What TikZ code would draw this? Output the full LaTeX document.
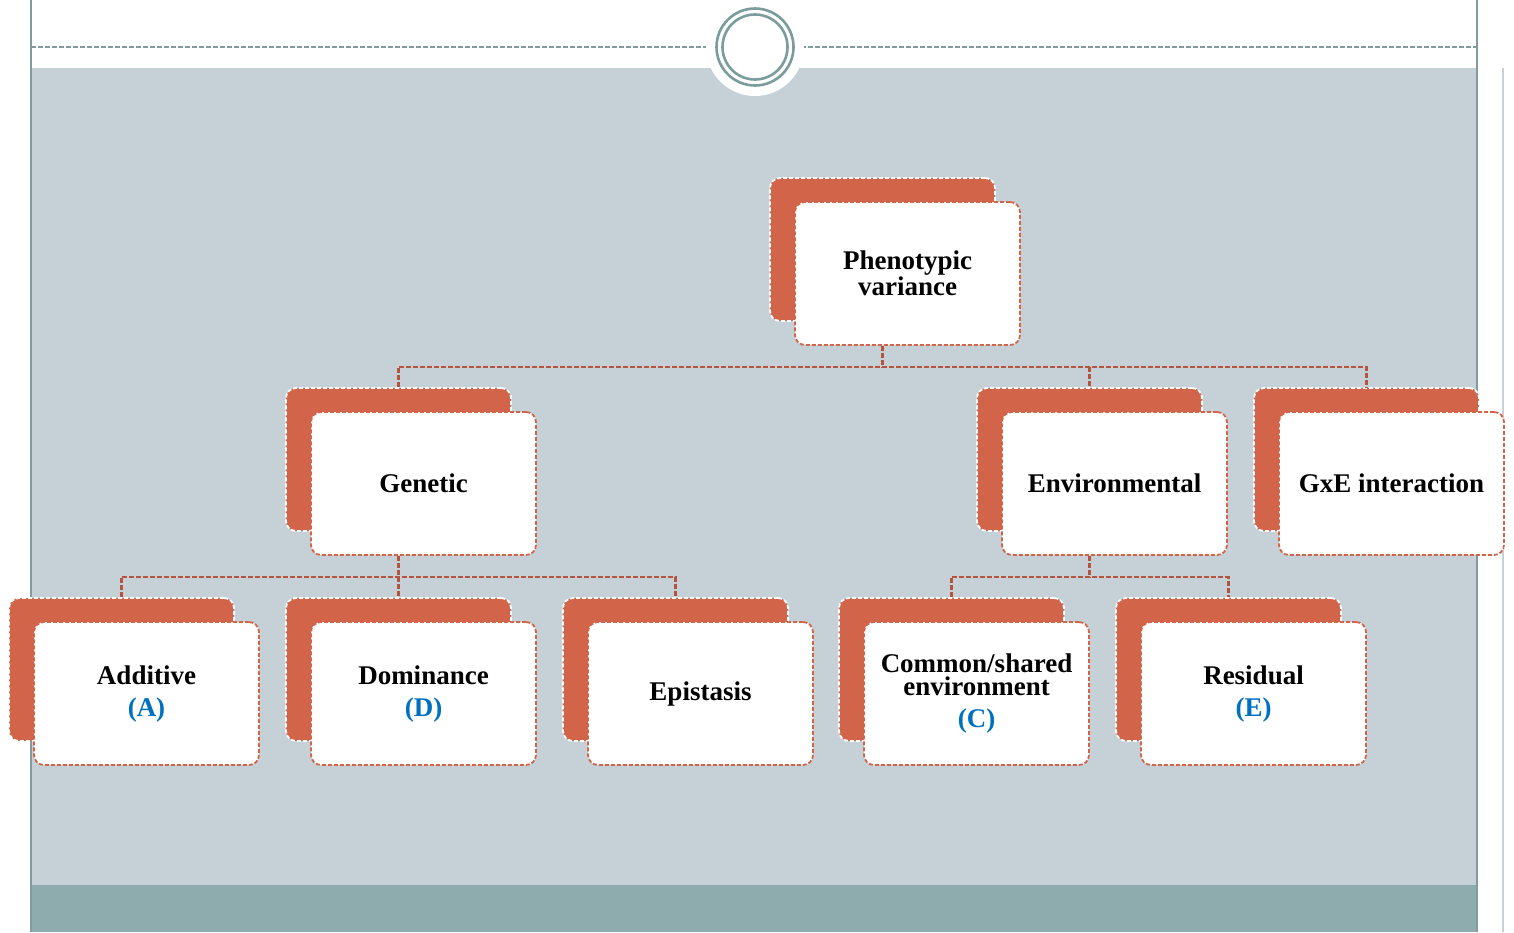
\documentclass[tikz,border=0pt]{standalone}
\usepackage{fontspec}
\setmainfont{Liberation Serif}
\definecolor{bgblue}{HTML}{C5D1D7}
\definecolor{band}{HTML}{8EACAE}
\definecolor{frame}{HTML}{819C9E}
\definecolor{ring}{HTML}{7A9C9C}
\definecolor{orng}{HTML}{D2644A}
\definecolor{conncol}{HTML}{B5533F}
\definecolor{lblue}{HTML}{0070C0}
\definecolor{thinline}{HTML}{C8D0D4}
\tikzset{
  boxbase/.style={rectangle, rounded corners=10pt, minimum width=225pt, minimum height=143pt, line width=1.8pt, dash pattern=on 4pt off 2pt},
  backbox/.style={boxbase, fill=orng, draw=white},
  frontbox/.style={boxbase, fill=white, draw=orng, align=center, font=\fontsize{27}{23}\selectfont\bfseries},
  conn/.style={draw=conncol, line width=2.4pt, dash pattern=on 5pt off 2pt},
  lbl/.style={text=lblue}
}
\newcommand{\tribox}[4]{%
  \node[backbox] (#1b) at (#2-25,#3-24) {};
  \node[frontbox] (#1) at (#2,#3) {#4};
}
\begin{document}
\begin{tikzpicture}[x=1pt,y=-1pt]
\useasboundingbox (0,0) rectangle (1514,932);
\fill[white] (0,0) rectangle (1514,932);
% background areas
\fill[bgblue] (31,68) rectangle (1477,885);
\fill[band] (31,885) rectangle (1477,932);
% frame lines
\draw[frame, line width=2pt] (31,0) -- (31,932);
\draw[frame, line width=2pt] (1477,0) -- (1477,932);
\draw[thinline, line width=1.5pt] (1503,68) -- (1503,932);
% top dashed line
\draw[frame, line width=1.3pt, dash pattern=on 5pt off 2pt] (31,47) -- (1477,47);
% circle ornament
\fill[white] (755,47) circle (49);
\draw[ring, line width=2.6pt] (755,47) circle (38.5);
\draw[ring, line width=2.6pt] (755,47) circle (32.5);
% boxes
\tribox{phen}{907.5}{273.5}{Phenotypic\\variance}
\tribox{gen}{423.5}{483.5}{Genetic}
\tribox{env}{1114.5}{483.5}{Environmental}
\tribox{gxe}{1391.5}{483.5}{GxE interaction}
\tribox{add}{146.5}{693.5}{Additive\\[9pt]\textcolor{lblue}{(A)}}
\tribox{dom}{423.5}{693.5}{Dominance\\[9pt]\textcolor{lblue}{(D)}}
\tribox{epi}{700.5}{693.5}{Epistasis}
\tribox{com}{976.5}{693.5}{Common/shared\\environment\\[9pt]\textcolor{lblue}{(C)}}
\tribox{res}{1253.5}{693.5}{Residual\\[9pt]\textcolor{lblue}{(E)}}
% connectors
\coordinate (busA) at (0,367);
\coordinate (busB) at (0,577);
\draw[conn] (phenb.center |- phen.south) -- (phenb.center |- busA);
\draw[conn] (genb.north) -- (genb.north |- busA) -- (gxeb.north |- busA) -- (gxeb.north);
\draw[conn] (envb.north |- busA) -- (envb.north);
\draw[conn] (genb.center |- gen.south) -- (genb.center |- busB);
\draw[conn] (addb.north) -- (addb.north |- busB) -- (epib.north |- busB) -- (epib.north);
\draw[conn] (domb.north |- busB) -- (domb.north);
\draw[conn] (envb.center |- env.south) -- (envb.center |- busB);
\draw[conn] (comb.north) -- (comb.north |- busB) -- (resb.north |- busB) -- (resb.north);
\end{tikzpicture}
\end{document}
